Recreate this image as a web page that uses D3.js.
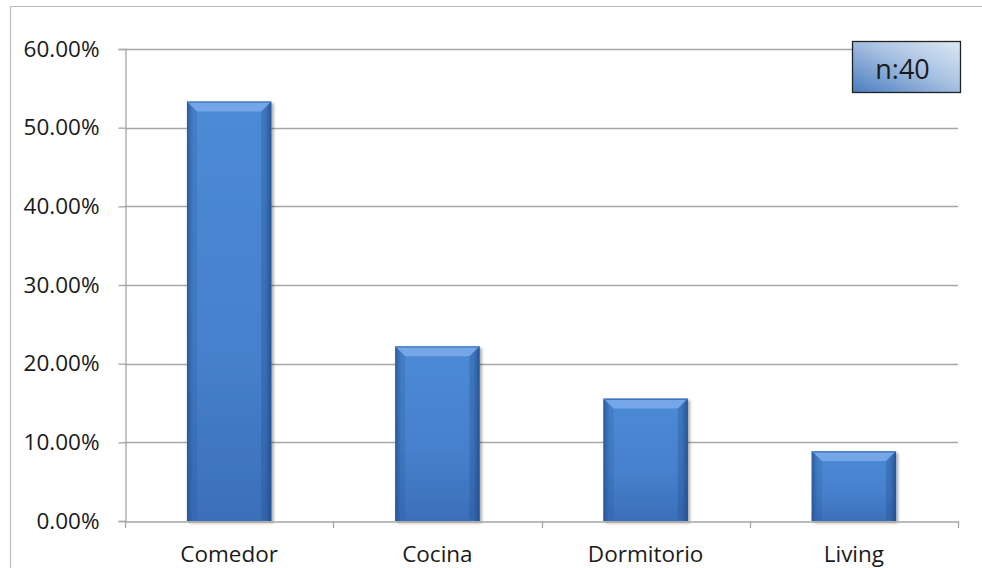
<!DOCTYPE html>
<html>
<head>
<meta charset="utf-8">
<script src="https://cdn.jsdelivr.net/npm/d3@7"></script>
<style>
  html, body { margin: 0; padding: 0; background: #fff; }
  svg { display: block; }
  text { font-family: "Open Sans", "Liberation Sans", sans-serif; fill: #1a1a1a; }
</style>
</head>
<body>
<svg id="chart" width="982" height="568"></svg>
<script>
// Share of responses per room (n = 40)
const categories = ["Comedor", "Cocina", "Dormitorio", "Living"];
const shares = [0.5333, 0.2222, 0.1556, 0.0889];
const yTicks = [0, 0.1, 0.2, 0.3, 0.4, 0.5, 0.6];
const sampleLabel = "n:40";

const svg = d3.select("#chart");
const W = 982, H = 568;
const m = { left: 125, right: 24, top: 49, bottom: 47 };
const x0 = m.left, x1 = W - m.right, y0 = H - m.bottom, y1 = m.top;
const FONT = "'Open Sans', 'Liberation Sans', sans-serif";

const x = d3.scaleBand().domain(categories).range([x0, x1]).padding(0);
const y = d3.scaleLinear().domain([0, 0.6]).range([y0, y1]);
const barW = x.bandwidth() * 0.405;

const defs = svg.append("defs");
// main body gradient (vertical)
const gBody = defs.append("linearGradient").attr("id", "body").attr("x1", 0).attr("y1", 0).attr("x2", 0).attr("y2", 1);
gBody.append("stop").attr("offset", "0%").attr("stop-color", "#4d8ad6");
gBody.append("stop").attr("offset", "60%").attr("stop-color", "#4680cc");
gBody.append("stop").attr("offset", "100%").attr("stop-color", "#3b6fb8");
// side shading (horizontal)
const gSide = defs.append("linearGradient").attr("id", "side").attr("x1", 0).attr("y1", 0).attr("x2", 1).attr("y2", 0);
gSide.append("stop").attr("offset", "0%").attr("stop-color", "#1f4a8a").attr("stop-opacity", 0.75);
gSide.append("stop").attr("offset", "8%").attr("stop-color", "#2d5ea6").attr("stop-opacity", 0.0);
gSide.append("stop").attr("offset", "92%").attr("stop-color", "#2d5ea6").attr("stop-opacity", 0.0);
gSide.append("stop").attr("offset", "100%").attr("stop-color", "#1f4a8a").attr("stop-opacity", 0.8);
// label box gradient
const gBox = defs.append("linearGradient").attr("id", "box").attr("x1", 0).attr("y1", 1).attr("x2", 1).attr("y2", 0);
gBox.append("stop").attr("offset", "0%").attr("stop-color", "#4a7dc0");
gBox.append("stop").attr("offset", "55%").attr("stop-color", "#a9c2e2");
gBox.append("stop").attr("offset", "100%").attr("stop-color", "#dde8f4");
const shadow = defs.append("filter").attr("id", "shadow").attr("x", "-20%").attr("y", "-20%").attr("width", "140%").attr("height", "140%");
shadow.append("feGaussianBlur").attr("in", "SourceAlpha").attr("stdDeviation", 1.5);
shadow.append("feOffset").attr("dx", 1.5).attr("dy", 1.5).attr("result", "b");
shadow.append("feComponentTransfer").append("feFuncA").attr("type", "linear").attr("slope", 0.35);
const mg = shadow.append("feMerge");
mg.append("feMergeNode");
mg.append("feMergeNode").attr("in", "SourceGraphic");

// outer frame (left and top edges)
svg.append("path").attr("d", `M10.5,${H} V6.5 H${W}`).attr("fill", "none").attr("stroke", "#bdbdbd").attr("stroke-width", 1.2);

// horizontal gridlines
svg.append("g").selectAll("line").data(yTicks.filter(d => d > 0)).join("line")
  .attr("x1", x0).attr("x2", x1)
  .attr("y1", d => Math.round(y(d)) + 0.5).attr("y2", d => Math.round(y(d)) + 0.5)
  .attr("stroke", "#a6a6a6").attr("stroke-width", 1.3);

// y axis
const yAxis = svg.append("g").attr("transform", `translate(${x0 + 0.5},0)`)
  .call(d3.axisLeft(y).tickValues(yTicks).tickFormat(d3.format(".2%")).tickSize(7).tickPadding(19));
yAxis.select(".domain").attr("stroke", "#a6a6a6").attr("stroke-width", 1.3);
yAxis.selectAll(".tick line").attr("stroke", "#a6a6a6").attr("stroke-width", 1.3);
yAxis.selectAll(".tick text").attr("font-size", 22.5).attr("fill", "#1a1a1a")
  .style("font-family", FONT);

// bars
const bars = svg.append("g").selectAll("g").data(categories.map((c, i) => ({ c, v: shares[i] }))).join("g")
  .attr("filter", "url(#shadow)");
bars.each(function (d) {
  const g = d3.select(this);
  const bx = x(d.c) + (x.bandwidth() - barW) / 2;
  const by = y(d.v), bh = y0 - by;
  g.append("rect").attr("x", bx).attr("y", by).attr("width", barW).attr("height", bh).attr("fill", "url(#body)");
  g.append("rect").attr("x", bx).attr("y", by).attr("width", barW).attr("height", bh).attr("fill", "url(#side)");
  // top bevel
  const bev = 10;
  g.append("path")
    .attr("d", `M${bx},${by} H${bx + barW} L${bx + barW - bev},${by + bev} H${bx + bev} Z`)
    .attr("fill", "#79aaea").attr("opacity", 0.9);
  g.append("line").attr("x1", bx + 2).attr("x2", bx + barW - 2).attr("y1", by + 0.8).attr("y2", by + 0.8)
    .attr("stroke", "#3f72b8").attr("stroke-width", 1.2);
  // left/right bevel edges
  g.append("path")
    .attr("d", `M${bx},${by} L${bx + bev},${by + bev} V${y0 - 2} L${bx},${y0} Z`)
    .attr("fill", "#2d5a9c").attr("opacity", 0.25);
  g.append("path")
    .attr("d", `M${bx + barW},${by} L${bx + barW - bev},${by + bev} V${y0 - 2} L${bx + barW},${y0} Z`)
    .attr("fill", "#1f4a8a").attr("opacity", 0.3);
});

// x axis
const xAxis = svg.append("g").attr("transform", `translate(0,${y0 + 0.5})`)
  .call(d3.axisBottom(x).tickSize(0).tickPadding(27));
xAxis.select(".domain").attr("stroke", "#a6a6a6").attr("stroke-width", 1.3);
xAxis.selectAll(".tick text").attr("font-size", 22.5).attr("fill", "#1a1a1a")
  .attr("dy", "0.62em").style("font-family", FONT);
// category boundary ticks
const bounds = [x0, ...categories.map(c => x(c) + x.bandwidth())];
svg.append("g").selectAll("line").data(bounds).join("line")
  .attr("x1", d => Math.round(d) + 0.5).attr("x2", d => Math.round(d) + 0.5)
  .attr("y1", y0).attr("y2", y0 + 7)
  .attr("stroke", "#a6a6a6").attr("stroke-width", 1.3);

// sample size box
const box = svg.append("g").attr("transform", "translate(852.5,41.5)");
box.append("rect").attr("width", 108).attr("height", 51).attr("fill", "url(#box)")
  .attr("stroke", "#222").attr("stroke-width", 1.3);
box.append("text").attr("x", 50).attr("y", 37).attr("text-anchor", "middle")
  .attr("font-size", 27).text(sampleLabel);
</script>
</body>
</html>
